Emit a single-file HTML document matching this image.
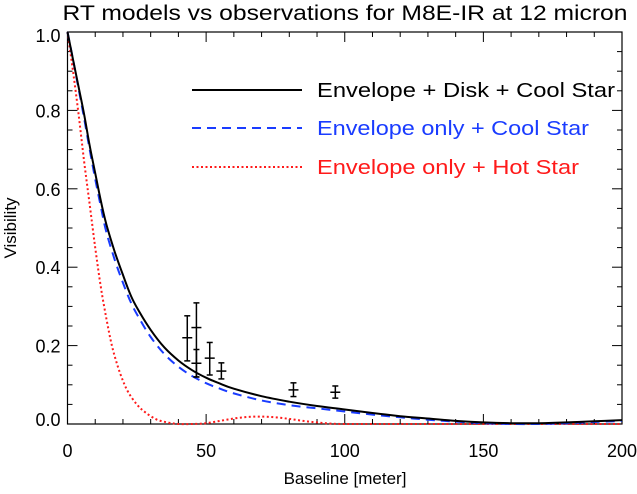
<!DOCTYPE html>
<html><head><meta charset="utf-8"><style>
body{margin:0;background:#fff;}
svg text{font-family:"Liberation Sans",Arial,sans-serif;}
</style></head><body>
<svg id="chart" width="637" height="489" xmlns="http://www.w3.org/2000/svg">
<text x="345" y="20" font-size="21" text-anchor="middle" fill="#000" textLength="565" lengthAdjust="spacingAndGlyphs">RT models vs observations for M8E-IR at 12 micron</text>
<rect x="67.5" y="32" width="554.5" height="392" fill="none" stroke="#000" stroke-width="1.2"/>
<g id="axes"></g>
<g id="series"></g>
<g>
<line x1="192" y1="90" x2="302" y2="90" stroke="#000" stroke-width="2"/>
<text x="317" y="97" font-size="20" fill="#000" textLength="298" lengthAdjust="spacingAndGlyphs">Envelope + Disk + Cool Star</text>
<line x1="192" y1="128" x2="302" y2="128" stroke="#1a3cff" stroke-width="2" stroke-dasharray="9,6"/>
<text x="317" y="135" font-size="20" fill="#1a3cff" textLength="272" lengthAdjust="spacingAndGlyphs">Envelope only + Cool Star</text>
<line x1="192" y1="167" x2="302" y2="167" stroke="#ff1a1a" stroke-width="2" stroke-dasharray="2,2.5"/>
<text x="317" y="174" font-size="20" fill="#ff1a1a" textLength="262" lengthAdjust="spacingAndGlyphs">Envelope only + Hot Star</text>
</g>
<text x="345" y="484" font-size="17" text-anchor="middle">Baseline [meter]</text>
<text x="0" y="0" font-size="17" text-anchor="middle" transform="translate(16,228) rotate(-90)">Visibility</text>
</svg>
<script>
const xTicks=[0,50,100,150,200];
const yTicks=[0.0,0.2,0.4,0.6,0.8,1.0];
const yTickLabels=["0.0","0.2","0.4","0.6","0.8","1.0"];
const blackX=[0,2,4,6,8,10,12,14,17,20,23,26,30,35,40,45,50,55,60,70,80,90,100,110,120,130,140,150,160,170,180,190,200];
const blackV=[1.0,.93,.86,.79,.71,.64,.57,.51,.44,.38,.325,.285,.24,.195,.162,.137,.118,.103,.09,.071,.057,.046,.037,.028,.02,.014,.008,.004,.002,.002,.004,.007,.01];
const blueX=[0,2,4,6,8,10,12,14,17,20,23,26,30,35,40,45,50,55,60,70,80,90,100,110,120,130,140,150,160,170,180,190,200];
const blueV=[1.0,.93,.855,.78,.70,.625,.555,.49,.42,.36,.308,.268,.222,.178,.146,.122,.104,.09,.078,.06,.048,.04,.032,.024,.017,.011,.006,.002,0,0,.002,.005,.008];
const redX=[0,2,4,6,8,10,12,14,16,18,20,22,25,28,32,36,40,45,50,55,60,65,70,75,80,85,90,95,100,120,140,160,180,200];
const redV=[1.0,.9,.79,.67,.56,.45,.35,.27,.20,.15,.11,.08,.05,.03,.012,.004,0,0,.002,.008,.014,.018,.019,.017,.013,.008,.004,.001,0,0,0,0,0,0];
const obsX=[43.2,46.5,46.5,51.3,55.5,81.5,96.6];
const obsV=[.22,.246,.155,.168,.135,.087,.081];
const obsLo=[.161,.12,.12,.125,.115,.07,.066];
const obsHi=[.276,.309,.19,.208,.156,.105,.097];

const NS="http://www.w3.org/2000/svg";
const X0=67.5,X1=622,Y0=424,Y1=32;
function sx(v){return X0+(v-0)/(200-0)*(X1-X0);}
function sy(v){return Y0-(v-0)/(1-0)*(Y0-Y1);}
function mk(tag,attrs,parent){const e=document.createElementNS(NS,tag);for(const k in attrs)e.setAttribute(k,attrs[k]);parent.appendChild(e);return e;}
const axes=document.getElementById('axes');
const series=document.getElementById('series');
for(let v=0;v<=200;v+=10){
  const major=v%50===0;const L=major?10:5;
  let t=mk('line',{x1:sx(v),x2:sx(v),y1:Y0,y2:Y0-L,stroke:'#000','stroke-width':1},axes);
  
  
  let t2=mk('line',{x1:sx(v),x2:sx(v),y1:Y1,y2:Y1+L,stroke:'#000','stroke-width':1},axes);
  
  
}
xTicks.forEach(v=>{
  const t=mk('text',{x:sx(v),y:Y0+33,'font-size':18,'text-anchor':'middle'},axes);
  t.textContent=String(v);
  
  
});
for(let i=0;i<=20;i++){
  const v=i*0.05;const major=i%4===0;const L=major?10:5;
  let t=mk('line',{x1:X0,x2:X0+L,y1:sy(v),y2:sy(v),stroke:'#000','stroke-width':1},axes);
  
  
  let t2=mk('line',{x1:X1,x2:X1-L,y1:sy(v),y2:sy(v),stroke:'#000','stroke-width':1},axes);
  
  
}
yTicks.forEach((v,i)=>{
  let yy=sy(v)+7; if(i===0) yy-=5; if(i===yTicks.length-1) yy+=3;
  const t=mk('text',{x:X0-7,y:yy,'font-size':18,'text-anchor':'end'},axes);
  t.textContent=yTickLabels[i];
  
  
});
function path(xs,vs){
  const P=xs.map((x,i)=>[sx(x),sy(vs[i])]);
  let d='M'+P[0][0].toFixed(1)+','+P[0][1].toFixed(1);
  for(let i=0;i<P.length-1;i++){
    const p0=P[Math.max(0,i-1)],p1=P[i],p2=P[i+1],p3=P[Math.min(P.length-1,i+2)];
    const c1=[p1[0]+(p2[0]-p0[0])/6,p1[1]+(p2[1]-p0[1])/6];
    const c2=[p2[0]-(p3[0]-p1[0])/6,p2[1]-(p3[1]-p1[1])/6];
    d+=' C'+c1[0].toFixed(1)+','+c1[1].toFixed(1)+' '+c2[0].toFixed(1)+','+c2[1].toFixed(1)+' '+p2[0].toFixed(1)+','+p2[1].toFixed(1);
  }
  return d;
}
const pr=mk('path',{d:path(redX,redV),fill:'none',stroke:'#ff1a1a','stroke-width':2,'stroke-dasharray':'2,2.5'},series);


const pb=mk('path',{d:path(blueX,blueV),fill:'none',stroke:'#1a3cff','stroke-width':2,'stroke-dasharray':'9,6'},series);


const pk=mk('path',{d:path(blackX,blackV),fill:'none',stroke:'#000','stroke-width':2},series);


obsX.forEach((x,i)=>{
  const g=mk('g',{stroke:'#000','stroke-width':1.5},series);
  
  
  const cx=sx(x);
  mk('line',{x1:cx,x2:cx,y1:sy(obsLo[i]),y2:sy(obsHi[i])},g);
  mk('line',{x1:cx-3,x2:cx+3,y1:sy(obsLo[i]),y2:sy(obsLo[i])},g);
  mk('line',{x1:cx-3,x2:cx+3,y1:sy(obsHi[i]),y2:sy(obsHi[i])},g);
  mk('line',{x1:cx-5,x2:cx+5,y1:sy(obsV[i]),y2:sy(obsV[i])},g);
});
</script>
</body></html>
